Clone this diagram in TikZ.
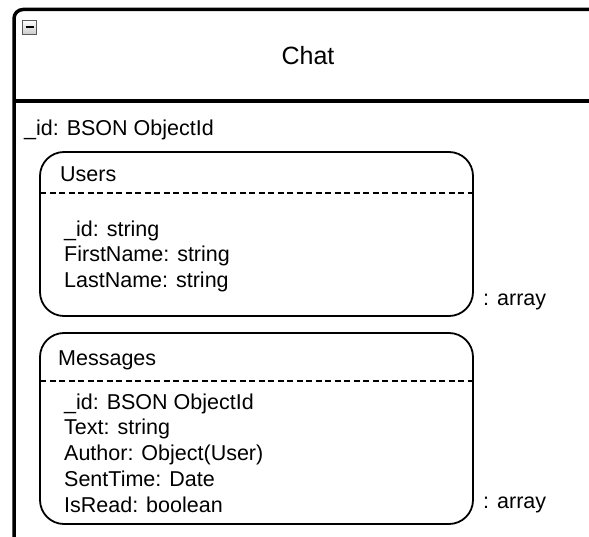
\documentclass[tikz,border=0pt]{standalone}
\usepackage{fontspec}
\setmainfont{Liberation Sans}
\usetikzlibrary{positioning,calc}
\tikzset{
  classbox/.style={
    rectangle, draw=black, line width=3.5pt, rounded corners=9pt,
    minimum width=600pt, minimum height=540pt,
    anchor=north west, inner sep=0pt, outer sep=0pt
  },
  docbox/.style={
    rectangle, draw=black, line width=1.8pt, rounded corners=24pt,
    minimum width=433pt, minimum height=#1,
    anchor=north west, inner sep=0pt, outer sep=0pt
  },
  togglebox/.style={
    rectangle, draw=gray!70!black, line width=0.8pt,
    top color=white, bottom color=gray!40, minimum size=14pt, inner sep=0pt
  },
  ttl/.style={font=\fontsize{25}{30}\selectfont, text=black},
  fld/.style={font=\fontsize{21.5}{25.8}\selectfont, inner sep=0pt, anchor=base west},
  flds/.style={fld, align=left, anchor=north west},
  dsep/.style={line width=1.6pt, dash pattern=on 6pt off 3.5pt}
}
\begin{document}
\begin{tikzpicture}[x=1pt,y=-1pt]
  \useasboundingbox (0,0) rectangle (589,537);

  % outer class frame, cut at the page edge
  \begin{scope}
    \clip (0,0) rectangle (589,537);
    \node[classbox] (chat) at (14,9.5) {};
    \coordinate (hline) at (0,101);
    \draw[line width=3.5pt] (chat.west |- hline) -- (chat.east |- hline);
  \end{scope}

  \node[togglebox] (toggle) at (29.5,27) {};
  \draw[line width=2pt] ([xshift=-4pt]toggle.center) -- ([xshift=4pt]toggle.center);

  \node[ttl] (title) at (308,56) {Chat};

  \node[fld] (oid) at (24,136) {\_id: BSON ObjectId};

  % Users sub-document
  \node[docbox=164pt] (users) at (40,152) {};
  \node[fld] (usershd) at (60,182) {Users};
  \draw[dsep] ($(users.north west)+(0,41)$) -- ($(users.north east)+(0,41)$);
  \node[flds] (usersfl) at (64,220.3)
    {\_id: string\\FirstName: string\\LastName: string};
  \node[fld] (usersarr) at (483,306) {: array};

  % Messages sub-document
  \node[docbox=191pt] (msgs) at (40,333) {};
  \node[fld] (msgshd) at (58,365) {Messages};
  \draw[dsep] ($(msgs.north west)+(0,48)$) -- ($(msgs.north east)+(0,48)$);
  \node[flds] (msgsfl) at (64,393.3)
    {\_id: BSON ObjectId\\Text: string\\Author: Object(User)\\SentTime: Date\\IsRead: boolean};
  \node[fld] (msgsarr) at (483,508) {: array};
\end{tikzpicture}
\end{document}
